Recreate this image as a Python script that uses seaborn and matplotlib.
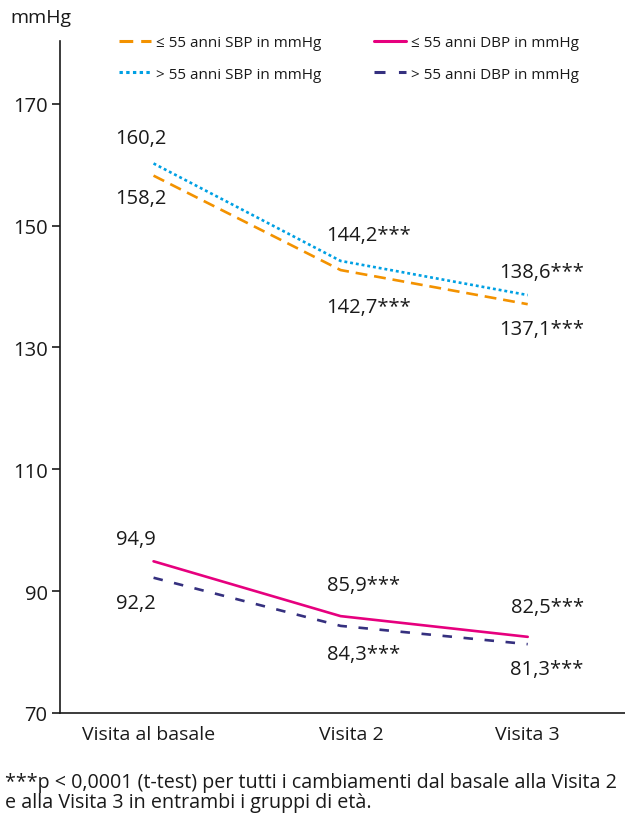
import matplotlib
matplotlib.use("Agg")
import matplotlib.pyplot as plt
import matplotlib.transforms as mtransforms
import seaborn as sns
import pandas as pd
from matplotlib.lines import Line2D

visits = ["Visita al basale", "Visita 2", "Visita 3"]
sbp_le55 = [158.2, 142.7, 137.1]
sbp_gt55 = [160.2, 144.2, 138.6]
dbp_le55 = [94.9, 85.9, 82.5]
dbp_gt55 = [92.2, 84.3, 81.3]
sig = ["", "***", "***"]
series_names = ["≤ 55 anni SBP in mmHg", "> 55 anni SBP in mmHg",
                "≤ 55 anni DBP in mmHg", "> 55 anni DBP in mmHg"]
yticks = [70, 90, 110, 130, 150, 170]
footnote = ("***p < 0,0001 (t-test) per tutti i cambiamenti dal basale alla Visita 2\n"
            "e alla Visita 3 in entrambi i gruppi di età.")

sns.set_theme(style="ticks")
plt.rcParams["font.family"] = ["Open Sans", "DejaVu Sans"]

fig = plt.figure(figsize=(6.25, 8.2), dpi=100)
ax = fig.add_axes([60/625, 1-714/820, 1-60/625, (714-42)/820])

colors = ["#F39200", "#00A0E3", "#E6007E", "#35307F"]
dashes = [(4.5, 2.6), (1.1, 1.1), (None), (3.6, 4.4)]
all_vals = [sbp_le55, sbp_gt55, dbp_le55, dbp_gt55]

for vals, c, d, name in zip(all_vals, colors, dashes, series_names):
    df = pd.DataFrame({"visit": visits, "value": vals})
    line_kw = dict(color=c, linewidth=1.9, ax=ax, legend=False, sort=False)
    sns.lineplot(data=df, x="visit", y="value", **line_kw)
    if d is not None:
        ax.lines[-1].set_dashes(d)

ax.set_xlim(-0.5, 2.52)
ax.set_ylim(70, 180.3)
ax.set_yticks(yticks)
ax.set_yticklabels([str(t) for t in yticks])
ax.set_xlabel("")
ax.set_ylabel("")
for s in ["top", "right"]:
    ax.spines[s].set_visible(False)
for s in ["left", "bottom"]:
    ax.spines[s].set_color("#1a1a1a")
    ax.spines[s].set_linewidth(1.2)
FS = 14.5
ax.tick_params(axis="y", length=6, width=1.2, color="#1a1a1a", labelsize=FS,
               labelcolor="#1a1a1a", pad=3)
ax.tick_params(axis="x", length=0, labelsize=14, labelcolor="#1a1a1a", pad=9)
# small horizontal nudges of x tick labels (px)
xl_shift = [-5, 11, 0]
for lab, sh in zip(ax.get_xticklabels(), xl_shift):
    lab.set_transform(lab.get_transform() +
                      mtransforms.ScaledTranslation(sh/100, 0, fig.dpi_scale_trans))

def fmt(v):
    return f"{v:.1f}".replace(".", ",")

px = 72 / 100
# per-column horizontal offset (px) and alignment
xoff = [-38, -14, 56]
has = ["left", "left", "right"]
# vertical offsets (px, positive = down) for labels
yoff_upper_sbp = [-25, -26, -23]
yoff_lower_sbp = [22, 37, 25]
yoff_upper_dbp = [-22, -31, -30]
yoff_lower_dbp = [25, 28, 25]

def label(vals, yoffs):
    for i, v in enumerate(vals):
        ax.annotate(fmt(v) + sig[i], xy=(i, v), xytext=(xoff[i]*px, -yoffs[i]*px),
                    textcoords="offset points", ha=has[i], va="center",
                    fontsize=FS, color="#1a1a1a")

label(sbp_gt55, yoff_upper_sbp)
label(sbp_le55, yoff_lower_sbp)
label(dbp_le55, yoff_upper_dbp)
label(dbp_gt55, yoff_lower_dbp)

fig.text(10/625, 1-18/820, "mmHg", fontsize=14, color="#1a1a1a", ha="left", va="center")

handles = []
for c, d in zip(colors, dashes):
    h = Line2D([0], [0], color=c, linewidth=2.2)
    if d is not None:
        h.set_dashes(d)
    handles.append(h)
leg = fig.legend(handles, series_names,
                 ncol=2, frameon=False, fontsize=11, loc="upper left",
                 bbox_to_anchor=(119/625, 1-36/820), handlelength=2.1,
                 handletextpad=0.35, columnspacing=3.4, labelspacing=1.1,
                 borderpad=0, borderaxespad=0)
for t in leg.get_texts():
    t.set_color("#1a1a1a")

fig.text(5/625, 1-793/820, footnote, fontsize=14.2, color="#1a1a1a",
         ha="left", va="center", linespacing=1.05)

fig.savefig("out.png", dpi=100)
